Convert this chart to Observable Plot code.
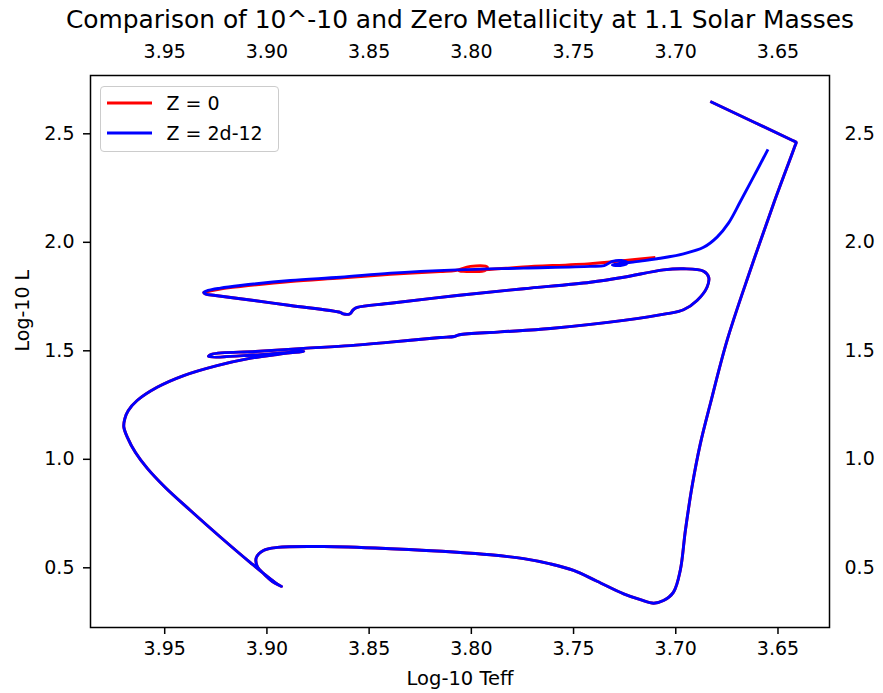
<!DOCTYPE html>
<html><head><meta charset="utf-8">
<script src="https://cdn.jsdelivr.net/npm/d3@7"></script>
<script src="https://cdn.jsdelivr.net/npm/@observablehq/plot@0.6"></script>
<style>
body{margin:0;background:#fff;}
#wrap{position:relative;width:883px;height:693px;font-family:"DejaVu Sans",sans-serif;}
.legend{position:absolute;left:100px;top:86px;width:177px;height:64px;border:1.5px solid #cccccc;border-radius:4px;background:rgba(255,255,255,0.8);}
.row{position:absolute;left:0;height:30px;display:flex;align-items:center;font-size:19px;color:#000;white-space:nowrap;}
.row svg{margin-left:5.5px;margin-right:15px;}
</style></head><body><div id="wrap"></div>
<script>
const title = "Comparison of 10^-10 and Zero Metallicity at 1.1 Solar Masses";
const xLabel = "Log-10 Teff";
const yLabel = "Log-10 L";
const xTicks = [3.95, 3.90, 3.85, 3.80, 3.75, 3.70, 3.65];
const yTicks = [0.5, 1.0, 1.5, 2.0, 2.5];
const seriesNames = ["Z = 0", "Z = 2d-12"];
const seriesColors = ["red", "blue"];

// Shared evolutionary track (both metallicities overlap here)
const sharedTeff = [
  3.6831, 3.6428, 3.6411, 3.6417, 3.6522, 3.6636, 3.6749, 3.6831, 3.6880, 3.6921,
  3.6953, 3.6978, 3.7011, 3.7060, 3.7108, 3.7173, 3.7255, 3.7385, 3.7500, 3.7614,
  3.7744, 3.7907, 3.8070, 3.8396, 3.8724, 3.8949, 3.9017, 3.9052, 3.9047, 3.9017,
  3.8973, 3.8929, 3.8954, 3.9081, 3.9228, 3.9374, 3.9497, 3.9585, 3.9643, 3.9682,
  3.9700, 3.9695, 3.9678, 3.9635, 3.9537, 3.9407, 3.9244, 3.9097, 3.8950, 3.8820,
  3.9056, 3.9286, 3.9267, 3.9056, 3.8821, 3.8592, 3.8396, 3.8152, 3.8083, 3.8058,
  3.7858, 3.7614, 3.7255, 3.7043, 3.6962, 3.6896, 3.6847, 3.6839, 3.6864, 3.6962,
  3.7060, 3.7255, 3.7418, 3.7744, 3.8070, 3.8396, 3.8558, 3.8578, 3.8593, 3.8627,
  3.8641, 3.8885, 3.9130, 3.9252, 3.9301, 3.9309
];
const sharedLogL = [
  2.649, 2.469, 2.461, 2.444, 2.177, 1.870, 1.548, 1.256, 1.071, 0.871,
  0.672, 0.488, 0.388, 0.349, 0.337, 0.353, 0.380, 0.438, 0.488, 0.518,
  0.542, 0.560, 0.572, 0.588, 0.598, 0.594, 0.580, 0.547, 0.506, 0.474,
  0.437, 0.414, 0.428, 0.524, 0.642, 0.764, 0.870, 0.958, 1.031, 1.100,
  1.149, 1.188, 1.225, 1.271, 1.332, 1.386, 1.432, 1.463, 1.483, 1.498,
  1.481, 1.474, 1.485, 1.497, 1.511, 1.524, 1.540, 1.561, 1.566, 1.574,
  1.587, 1.603, 1.640, 1.671, 1.689, 1.732, 1.793, 1.839, 1.867, 1.878,
  1.873, 1.839, 1.816, 1.786, 1.755, 1.719, 1.700, 1.689, 1.671, 1.670,
  1.677, 1.709, 1.740, 1.755, 1.762, 1.769
];
// Z = 0 final portion
const redTailTeff = [3.9289, 3.9228, 3.9130, 3.8885, 3.8641, 3.8396, 3.8152, 3.8078, 3.8005, 3.7922, 3.7932, 3.8005, 3.8060, 3.7900, 3.7746, 3.7418, 3.7271, 3.7100];
const redTailLogL = [1.773, 1.785, 1.796, 1.819, 1.835, 1.852, 1.865, 1.870, 1.889, 1.886, 1.870, 1.865, 1.868, 1.876, 1.886, 1.902, 1.914, 1.930];
// Z = 2d-12 final portion
const blueTailTeff = [3.9289, 3.9228, 3.9130, 3.8885, 3.8641, 3.8396, 3.8070, 3.7744, 3.7418, 3.7350, 3.7310, 3.7266, 3.7237, 3.7271, 3.7310, 3.7173, 3.7092, 3.6962, 3.6864, 3.6798, 3.6743, 3.6684, 3.6621, 3.6549];
const blueTailLogL = [1.778, 1.789, 1.801, 1.824, 1.839, 1.858, 1.873, 1.881, 1.889, 1.893, 1.912, 1.916, 1.905, 1.893, 1.896, 1.913, 1.924, 1.947, 1.977, 2.024, 2.087, 2.188, 2.299, 2.428];

const toRows = (t, l) => t.map((v, i) => ({teff: v, logL: l[i]}));
const redRows = toRows(sharedTeff.concat(redTailTeff), sharedLogL.concat(redTailLogL));
const blueRows = toRows(sharedTeff.concat(blueTailTeff), sharedLogL.concat(blueTailLogL));

const lineOpts = {x: "teff", y: "logL", strokeWidth: 2.9, curve: "catmull-rom", strokeLinejoin: "round", strokeLinecap: "butt"};

const chart = Plot.plot({
  width: 883, height: 693,
  marginLeft: 90, marginRight: 54, marginTop: 75, marginBottom: 66,
  x: {domain: [3.9863, 3.6248]},
  y: {domain: [0.2249, 2.7687]},
  style: {fontFamily: "DejaVu Sans", fontSize: "19px", background: "white", color: "black", overflow: "visible"},
  marks: [
    Plot.line(redRows, {...lineOpts, stroke: seriesColors[0]}),
    Plot.line(blueRows, {...lineOpts, stroke: seriesColors[1]}),
    Plot.frame({stroke: "black", strokeWidth: 1.5}),
    Plot.axisX({anchor: "bottom", ticks: xTicks, tickFormat: d3.format(".2f"), tickSize: 7, tickPadding: 7, fontSize: 19, strokeWidth: 1.5, label: null}),
    Plot.axisX({anchor: "top", ticks: xTicks, tickFormat: d3.format(".2f"), tickSize: 0, tickPadding: 18, fontSize: 19, label: null}),
    Plot.axisY({anchor: "left", ticks: yTicks, tickFormat: d3.format(".1f"), tickSize: 7, tickPadding: 9, fontSize: 19, strokeWidth: 1.5, label: null}),
    Plot.axisY({anchor: "right", ticks: yTicks, tickFormat: d3.format(".1f"), tickSize: 0, tickPadding: 15, fontSize: 19, label: null}),
    Plot.text([title], {text: d => d, frameAnchor: "top", lineAnchor: "middle", dy: -55, fontSize: 24.9}),
    Plot.text([xLabel], {text: d => d, frameAnchor: "bottom", lineAnchor: "middle", dy: 51, fontSize: 19.5}),
    Plot.text([yLabel], {text: d => d, frameAnchor: "left", lineAnchor: "middle", dx: -68, rotate: -90, fontSize: 19})
  ]
});
const wrap = document.getElementById("wrap");
wrap.appendChild(chart);

const legend = document.createElement("div");
legend.className = "legend";
seriesNames.forEach((name, i) => {
  const row = document.createElement("div");
  row.className = "row";
  row.style.top = (0.5 + 30 * i) + "px";
  row.innerHTML = `<svg width="45" height="6"><line x1="0" y1="3" x2="45" y2="3" stroke="${seriesColors[i]}" stroke-width="2.9"/></svg><span>${name}</span>`;
  legend.appendChild(row);
});
wrap.appendChild(legend);
</script></body></html>
